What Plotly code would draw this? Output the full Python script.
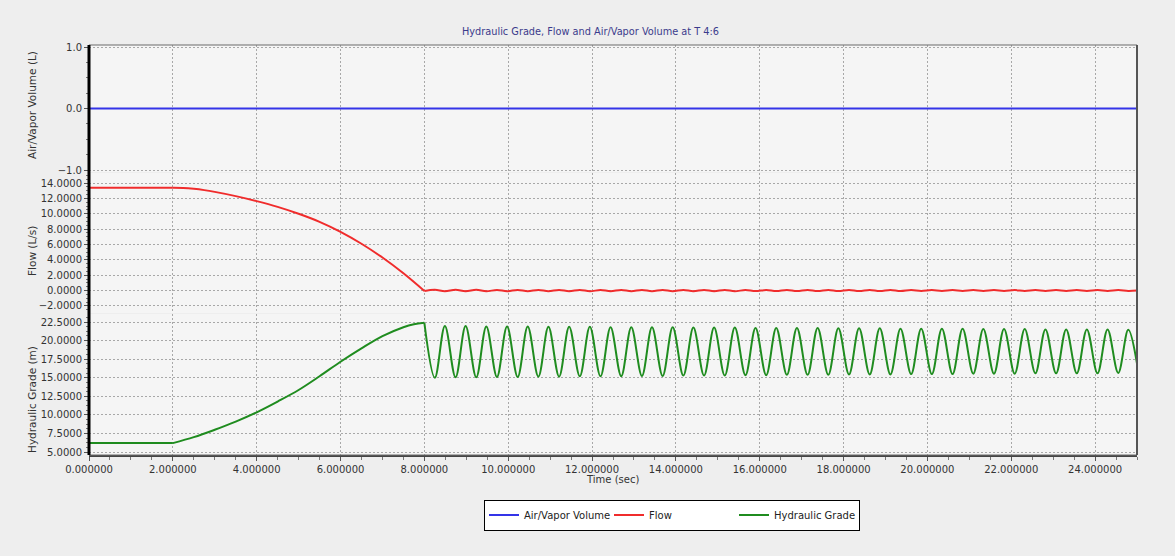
import plotly.graph_objects as go

# ---------------- data ----------------
air_t = [0.0, 25.0]
air_v = [0.0, 0.0]

# Flow before closure is complete
flow_t_ramp = [0.0, 1.0, 2.0, 2.25, 2.5, 2.75, 3.0, 3.5, 4.0, 4.5, 5.0, 5.5, 6.0, 6.5, 7.0, 7.5, 8.0]
flow_v_ramp = [13.38, 13.38, 13.38, 13.36, 13.25, 13.08, 12.85, 12.3, 11.65, 10.9, 10.0, 8.95, 7.65, 6.1, 4.3, 2.25, -0.05]

# Hydraulic grade before closure is complete
hg_t_ramp = [0.0, 1.0, 2.0, 2.5, 3.0, 3.5, 4.0, 4.5, 5.0, 5.5, 6.0, 6.5, 7.0, 7.5, 7.75, 8.0]
hg_v_ramp = [6.2, 6.2, 6.2, 7.0, 8.0, 9.1, 10.35, 11.8, 13.35, 15.2, 17.15, 18.95, 20.6, 21.8, 22.2, 22.4]

# Oscillation extremes of the hydraulic grade after t = 8 s
hg_peak_t = [8.49, 8.984, 9.478, 9.972, 10.466, 10.96, 11.454, 11.948, 12.442, 12.936,
             13.43, 13.924, 14.418, 14.912, 15.406, 15.90, 16.394, 16.888, 17.382, 17.876,
             18.37, 18.864, 19.358, 19.852, 20.346, 20.84, 21.334, 21.828, 22.322, 22.816,
             23.31, 23.804, 24.298, 24.792]
hg_peak_v = [21.95, 21.95, 21.9, 21.9, 21.9, 21.85, 21.85, 21.85, 21.8, 21.8,
             21.8, 21.8, 21.75, 21.75, 21.75, 21.7, 21.7, 21.7, 21.7, 21.65,
             21.65, 21.65, 21.6, 21.6, 21.6, 21.6, 21.55, 21.55, 21.55, 21.5,
             21.5, 21.5, 21.5, 21.45]
hg_trough_t = [8.25, 8.744, 9.238, 9.732, 10.226, 10.72, 11.214, 11.708, 12.202, 12.696,
               13.19, 13.684, 14.178, 14.672, 15.166, 15.66, 16.154, 16.648, 17.142, 17.636,
               18.13, 18.624, 19.118, 19.612, 20.106, 20.60, 21.094, 21.588, 22.082, 22.576,
               23.07, 23.564, 24.058, 24.552]
hg_trough_v = [15.0, 15.05, 15.05, 15.1, 15.1, 15.15, 15.15, 15.2, 15.2, 15.2,
               15.25, 15.25, 15.3, 15.3, 15.3, 15.35, 15.35, 15.4, 15.4, 15.4,
               15.45, 15.45, 15.45, 15.5, 15.5, 15.5, 15.55, 15.55, 15.55, 15.6,
               15.6, 15.6, 15.6, 15.65]
hg_end_t = [25.0]
hg_end_v = [16.9]

# Small flow wiggle after t = 8 s (at the same instants)
flow_at_peak = [-0.1, -0.1, -0.1, -0.09, -0.09, -0.09, -0.09, -0.09, -0.08, -0.08,
                -0.08, -0.08, -0.08, -0.08, -0.08, -0.07, -0.07, -0.07, -0.07, -0.07,
                -0.07, -0.07, -0.07, -0.06, -0.06, -0.06, -0.06, -0.06, -0.06, -0.06,
                -0.06, -0.06, -0.06, -0.06]
flow_at_trough = [0.1, 0.1, 0.1, 0.09, 0.09, 0.09, 0.09, 0.09, 0.08, 0.08,
                  0.08, 0.08, 0.08, 0.08, 0.08, 0.07, 0.07, 0.07, 0.07, 0.07,
                  0.07, 0.07, 0.07, 0.06, 0.06, 0.06, 0.06, 0.06, 0.06, 0.06,
                  0.06, 0.06, 0.06, 0.06]
flow_end_v = [0.0]

x_tick_vals = [0, 2, 4, 6, 8, 10, 12, 14, 16, 18, 20, 22, 24]
T_CLOSE_START = 2.0

# ---------------- assemble parts ----------------
osc = sorted(list(zip(hg_peak_t, hg_peak_v, flow_at_peak)) +
             list(zip(hg_trough_t, hg_trough_v, flow_at_trough)))
hg_osc_t = hg_t_ramp[-1:] + [p[0] for p in osc] + hg_end_t
hg_osc_v = hg_v_ramp[-1:] + [p[1] for p in osc] + hg_end_v
flow_osc_t = flow_t_ramp[-1:] + [p[0] for p in osc] + hg_end_t
flow_osc_v = flow_v_ramp[-1:] + [p[2] for p in osc] + flow_end_v

i_f = flow_t_ramp.index(T_CLOSE_START)
i_h = hg_t_ramp.index(T_CLOSE_START)

# ---------------- figure ----------------
FONT = "DejaVu Sans"
W, H = 1175, 556
ML, MR, MT, MB = 89, 38, 45, 101
PH = H - MT - MB  # 410
PW = W - ML - MR

BLUE, RED, GREEN = "#3434e8", "#f02c2c", "#1f8c1f"


def fy(py):
    return (H - MB - py) / PH


fig = go.Figure()
fig.add_trace(go.Scatter(x=air_t, y=air_v, name="Air/Vapor Volume", mode="lines",
                         line=dict(color=BLUE, width=2), yaxis="y"))

for name, grp, col, ax, t_r, v_r, i0, t_o, v_o in [
        ("Flow", "flow", RED, "y2", flow_t_ramp, flow_v_ramp, i_f, flow_osc_t, flow_osc_v),
        ("Hydraulic Grade", "hg", GREEN, "y3", hg_t_ramp, hg_v_ramp, i_h, hg_osc_t, hg_osc_v)]:
    fig.add_trace(go.Scatter(x=t_r[:i0 + 1], y=v_r[:i0 + 1], name=name, mode="lines",
                             legendgroup=grp, line=dict(color=col, width=2), yaxis=ax))
    fig.add_trace(go.Scatter(x=t_r[i0:], y=v_r[i0:], name=name, mode="lines",
                             legendgroup=grp, showlegend=False,
                             line=dict(color=col, width=2, shape="spline", smoothing=1.0),
                             yaxis=ax))
    fig.add_trace(go.Scatter(x=t_o, y=v_o, name=name, mode="lines",
                             legendgroup=grp, showlegend=False,
                             line=dict(color=col, width=2, shape="spline", smoothing=1.0),
                             yaxis=ax))

grid = dict(showgrid=True, gridcolor="#a8a8a8", gridwidth=1, griddash="2px,2px",
            zeroline=False, ticks="outside", ticklen=4, tickcolor="#555",
            tickfont=dict(family=FONT, size=10, color="#333"),
            showline=False)


def minor(d):
    return dict(dtick=d, ticks="outside", ticklen=2, tickcolor="#777", showgrid=False)


fig.update_layout(
    width=W, height=H,
    margin=dict(l=ML, r=MR, t=MT, b=MB),
    paper_bgcolor="#eeeeee",
    plot_bgcolor="#f5f5f5",
    font=dict(family=FONT, size=10, color="#333"),
    xaxis=dict(range=[0, 25], tickvals=x_tick_vals, tickformat=".6f",
               showgrid=True, gridcolor="#a8a8a8", griddash="2px,2px", zeroline=False,
               ticks="outside", ticklen=4, tickcolor="#555",
               tickfont=dict(family=FONT, size=10, color="#333"),
               showline=True, linecolor="#444", linewidth=2,
               minor=dict(dtick=0.5, ticks="outside", ticklen=3, tickcolor="#777"),
               anchor="y3"),
    yaxis=dict(domain=[fy(172), 1.0], range=[-1.0325, 1.0325], dtick=1.0, tick0=0,
               tickformat=".1f", minor=minor(0.25), **grid),
    yaxis2=dict(domain=[fy(313), fy(173)], range=[-2.92, 15.31], dtick=2, tick0=0,
                tickformat=".4f", minor=minor(0.5), **grid),
    yaxis3=dict(domain=[0.0, fy(314)], range=[4.6, 23.58], dtick=2.5, tick0=5,
                tickformat=".4f", minor=minor(0.625), **grid),
    showlegend=True,
    legend=dict(orientation="h", x=(672 - ML) / PW, xanchor="center",
                y=fy(515), yanchor="middle", bgcolor="#ffffff", bordercolor="#000",
                borderwidth=1, font=dict(family=FONT, size=10, color="#222"),
                entrywidth=80, entrywidthmode="pixels", itemwidth=30,
                tracegroupgap=0),
)

# frame around plotting area
fig.add_shape(type="rect", xref="paper", yref="paper", x0=0, x1=1, y0=0, y1=1,
              line=dict(color="#6a6a6a", width=1), layer="above")
fig.add_shape(type="line", xref="paper", yref="paper", x0=1, x1=1, y0=0, y1=1,
              line=dict(color="#555", width=2), layer="above")
fig.add_shape(type="line", xref="paper", yref="paper", x0=0, x1=0, y0=0, y1=1,
              line=dict(color="#000", width=3), layer="above")

ann = []
ann.append(dict(text="Hydraulic Grade, Flow and Air/Vapor Volume at T 4:6",
                xref="paper", yref="paper", x=(590 - ML) / PW, y=fy(32),
                showarrow=False, xanchor="center", yanchor="middle",
                font=dict(family=FONT, size=9.75, color="#3b3b8c")))
ann.append(dict(text="Time (sec)", xref="paper", yref="paper", x=(612 - ML) / PW,
                y=fy(479), showarrow=False, xanchor="center", yanchor="middle",
                font=dict(family=FONT, size=10, color="#333")))
for txt, py in [("Air/Vapor Volume (L)", 105), ("Flow (L/s)", 251),
                ("Hydraulic Grade (m)", 400)]:
    ann.append(dict(text=txt, xref="paper", yref="paper", x=(32 - ML) / PW, y=fy(py),
                    textangle=-90, showarrow=False, xanchor="center", yanchor="middle",
                    font=dict(family=FONT, size=10.5, color="#333")))
fig.update_layout(annotations=ann)

fig.write_html("out.html")
